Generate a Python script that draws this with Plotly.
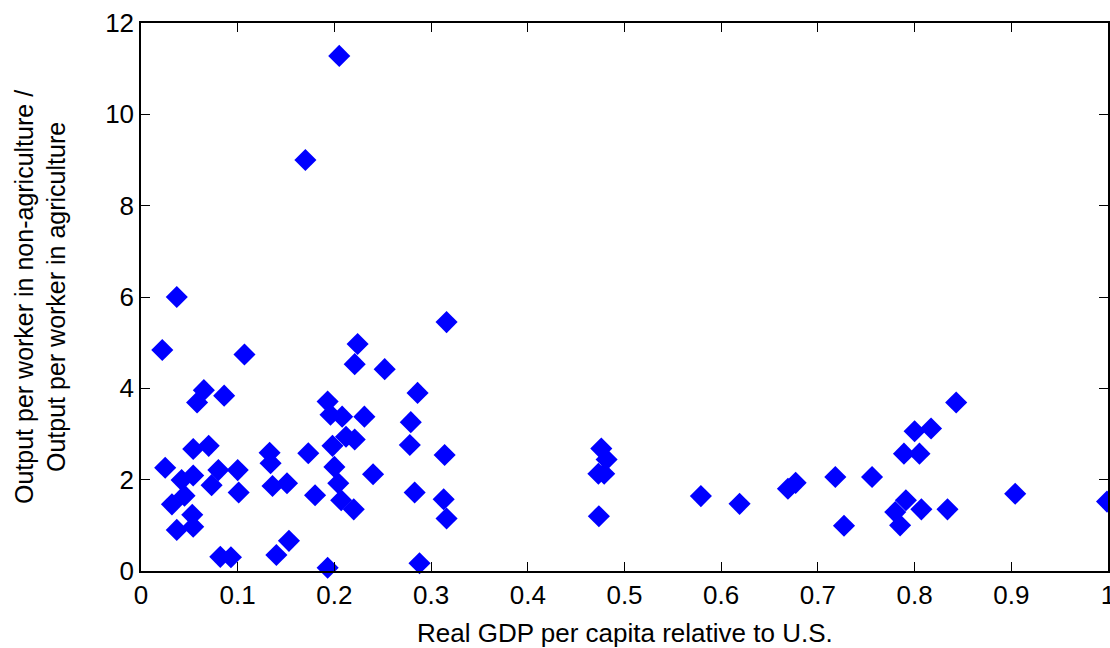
import plotly.graph_objects as go

# Real GDP per capita relative to U.S.
gdp_rel = [
    0.022, 0.025, 0.032, 0.037, 0.037, 0.042, 0.045, 0.054, 0.054, 0.053,
    0.054, 0.058, 0.065, 0.070, 0.073, 0.080, 0.082, 0.086, 0.093, 0.100,
    0.101, 0.107, 0.133, 0.134, 0.136, 0.140, 0.151, 0.153, 0.170, 0.173,
    0.180, 0.193, 0.193, 0.196, 0.198, 0.200, 0.204, 0.205, 0.207, 0.208,
    0.212, 0.221, 0.220, 0.221, 0.224, 0.231, 0.240, 0.252, 0.278, 0.279,
    0.283, 0.286, 0.288, 0.313, 0.314, 0.316, 0.316,
    0.476, 0.4815, 0.473, 0.479, 0.4735, 0.579, 0.619, 0.669, 0.677, 0.718,
    0.727, 0.756, 0.789, 0.805, 0.800, 0.817, 0.843, 0.791, 0.780, 0.785,
    0.807, 0.834, 0.904, 0.999,
]
# Output per worker in non-agriculture / output per worker in agriculture
prod_ratio = [
    4.84, 2.26, 1.46, 6.00, 0.90, 1.99, 1.65, 2.67, 2.09, 1.23,
    0.97, 3.69, 3.96, 2.74, 1.88, 2.21, 0.31, 3.84, 0.30, 2.21,
    1.72, 4.74, 2.59, 2.36, 1.86, 0.35, 1.92, 0.66, 9.00, 2.58,
    1.66, 3.71, 0.07, 3.42, 2.74, 2.28, 1.92, 11.28, 1.55, 3.38,
    2.94, 2.88, 1.35, 4.53, 4.97, 3.38, 2.12, 4.42, 2.76, 3.26,
    1.72, 3.90, 0.17, 1.57, 2.54, 1.15, 5.45,
    2.68, 2.44, 2.13, 2.13, 1.20, 1.64, 1.47, 1.80, 1.93, 2.06,
    0.99, 2.06, 2.57, 2.57, 3.06, 3.12, 3.69, 1.55, 1.29, 1.00,
    1.35, 1.35, 1.69, 1.52,
]

x_tick_vals = [0, 0.1, 0.2, 0.3, 0.4, 0.5, 0.6, 0.7, 0.8, 0.9, 1]
x_tick_text = ["0", "0.1", "0.2", "0.3", "0.4", "0.5", "0.6", "0.7", "0.8", "0.9", "1"]
y_tick_vals = [0, 2, 4, 6, 8, 10, 12]
y_tick_text = ["0", "2", "4", "6", "8", "10", "12"]

x_title = "Real GDP per capita relative to U.S."
y_title_1 = "Output per worker in non-agriculture /"
y_title_2 = "Output per worker in agriculture"

FONT = "Liberation Sans, Arial, sans-serif"

fig = go.Figure()
fig.add_trace(go.Scatter(
    x=gdp_rel, y=prod_ratio, mode="markers",
    marker=dict(symbol="diamond", size=17, color="#0000FF",
                line=dict(width=0)),
    cliponaxis=False, showlegend=False,
))

axis_common = dict(
    showline=True, linecolor="black", linewidth=1.5, mirror="ticks",
    ticks="inside", ticklen=9, tickwidth=1, tickcolor="black",
    showgrid=False, zeroline=False, ticklabeloverflow="allow",
    automargin=False,
    tickfont=dict(family=FONT, size=26, color="black"),
)

fig.update_layout(
    width=1110, height=648,
    margin=dict(l=141, r=2, t=23, b=77, autoexpand=False),
    paper_bgcolor="white", plot_bgcolor="white",
    font=dict(family=FONT, color="black"),
    xaxis=dict(range=[0, 1], tickmode="array", tickvals=x_tick_vals,
               ticktext=x_tick_text, **axis_common),
    yaxis=dict(range=[0, 12], tickmode="array", tickvals=y_tick_vals,
               ticktext=y_tick_text, **axis_common),
    annotations=[
        dict(text=x_title, xref="paper", yref="paper", x=0.5, y=0,
             xanchor="center", yanchor="middle", yshift=-62, showarrow=False,
             font=dict(family=FONT, size=26, color="black")),
        dict(text=y_title_1, xref="paper", yref="paper", x=0, y=0.5,
             xanchor="center", yanchor="middle", xshift=-117, textangle=-90,
             showarrow=False, font=dict(family=FONT, size=25, color="black")),
        dict(text=y_title_2, xref="paper", yref="paper", x=0, y=0.5,
             xanchor="center", yanchor="middle", xshift=-85, textangle=-90,
             showarrow=False, font=dict(family=FONT, size=25, color="black")),
    ],
)

fig.write_html("out.html")
